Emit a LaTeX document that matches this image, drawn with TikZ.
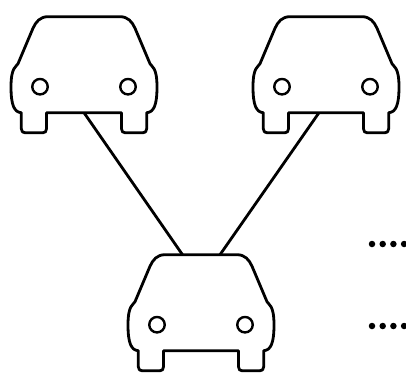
\documentclass[tikz,border=0pt]{standalone}
\begin{document}
\begin{tikzpicture}[x=1pt,y=-1pt,line width=2.8pt,line join=round,
  lamp/.style={draw,circle,inner sep=0pt,minimum size=15.5pt,line width=2.4pt},
  dotmark/.style={fill=black,draw=none,circle,inner sep=0pt,minimum size=6.5pt},
  carbody/.pic={
    \draw (-36,0) -- (36,0)
      .. controls (44,0) and (48,5) .. (51,11.5)
      -- (66,47)
      .. controls (67.5,50) and (73,50) .. (73,70)
      .. controls (73,88) and (70,95.5) .. (62.7,96)
      -- (62.7,112)
      .. controls (62.7,115) and (61,116) .. (59,116)
      -- (41,116)
      .. controls (39,116) and (37.5,115) .. (37.5,112)
      -- (37.5,96) -- (-37.5,96) -- (-37.5,112)
      .. controls (-37.5,115) and (-39,116) .. (-41,116)
      -- (-59,116)
      .. controls (-61,116) and (-62.7,115) .. (-62.7,112)
      -- (-62.7,96)
      .. controls (-70,95.5) and (-73,88) .. (-73,70)
      .. controls (-73,50) and (-67.5,50) .. (-66,47)
      -- (-51,11.5)
      .. controls (-48,5) and (-44,0) .. (-36,0) -- cycle;
    \node[lamp] at (-44,70) {};
    \node[lamp] at (44,70) {};
  }]
\useasboundingbox (0,0) rectangle (406,383);
\pic at (84,16.7) {carbody};
\pic at (326,16.7) {carbody};
\pic at (201,254.7) {carbody};
\coordinate (a1) at (84,112.7);
\coordinate (b1) at (182.5,254.7);
\coordinate (a2) at (319,112.7);
\coordinate (b2) at (220,254.7);
\draw (a1) -- (b1);
\draw (a2) -- (b2);
\foreach \i/\x in {1/372,2/382.7,3/393.4,4/404.1}{
  \node[dotmark] (u\i) at (\x,244) {};
  \node[dotmark] (v\i) at (\x,326) {};
}
\end{tikzpicture}
\end{document}
